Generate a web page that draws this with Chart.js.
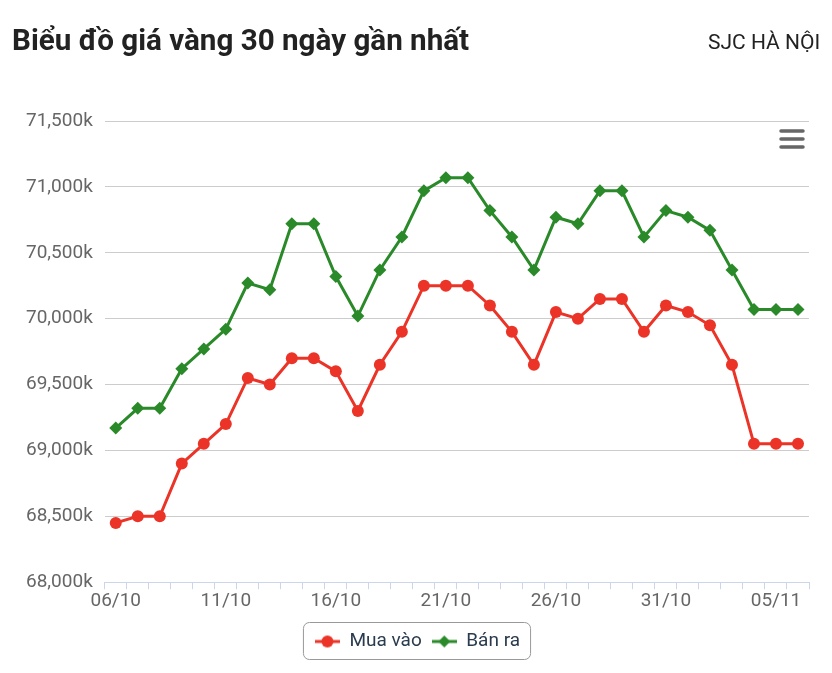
<!DOCTYPE html>
<html>
<head>
<meta charset="utf-8">
<script src="https://cdn.jsdelivr.net/npm/chart.js@4.4.1/dist/chart.umd.min.js"></script>
<style>
    html, body { margin: 0; background: #fff; font-family: Roboto, sans-serif; overflow: hidden; }
    #wrap { position: relative; width: 832px; height: 673px; }
    #title { position: absolute; left: 12px; top: 23px; font-size: 29.6px; font-weight: 700; color: #222; white-space: nowrap; }
    #sub { position: absolute; left: 708px; top: 30px; font-size: 21px; color: #222; white-space: nowrap; }
    #chartBox { position: absolute; left: 0; top: 0; width: 832px; height: 673px; }
    canvas { display: block; }
</style>
</head>
<body>
<div id="wrap">
    <div id="chartBox"><canvas id="goldChart" width="832" height="673"></canvas></div>
    <div id="title">Biểu đồ giá vàng 30 ngày gần nhất</div>
    <div id="sub">SJC HÀ NỘI</div>
</div>
<script>
// Dates (06/10 -> 06/11)
const days = [
    '06/10', '07/10', '08/10', '09/10', '10/10', '11/10', '12/10', '13/10',
    '14/10', '15/10', '16/10', '17/10', '18/10', '19/10', '20/10', '21/10',
    '22/10', '23/10', '24/10', '25/10', '26/10', '27/10', '28/10', '29/10',
    '30/10', '31/10', '01/11', '02/11', '03/11', '04/11', '05/11', '06/11'
];

// Giá mua vào (nghìn đồng)
const buyPrices = [
    68450, 68500, 68500, 68900, 69050, 69200, 69550, 69500,
    69700, 69700, 69600, 69300, 69650, 69900, 70250, 70250,
    70250, 70100, 69900, 69650, 70050, 70000, 70150, 70150,
    69900, 70100, 70050, 69950, 69650, 69050, 69050, 69050
];

// Giá bán ra (nghìn đồng)
const sellPrices = [
    69170, 69320, 69320, 69620, 69770, 69920, 70270, 70220,
    70720, 70720, 70320, 70020, 70370, 70620, 70970, 71070,
    71070, 70820, 70620, 70370, 70770, 70720, 70970, 70970,
    70620, 70820, 70770, 70670, 70370, 70070, 70070, 70070
];

const yMin = 68000;
const yMax = 71500;
const yStep = 500;

const RED = '#eb3427';
const GREEN = '#2a8a2a';

// small legend icons: line with marker through it
function legendIcon(color, shape) {
    const c = document.createElement('canvas');
    c.width = 25;
    c.height = 14;
    const g = c.getContext('2d');
    g.strokeStyle = color;
    g.fillStyle = color;
    g.lineWidth = 3;
    g.beginPath();
    g.moveTo(0, 7);
    g.lineTo(25, 7);
    g.stroke();
    g.beginPath();
    if (shape === 'circle') {
        g.arc(12.5, 7, 6, 0, Math.PI * 2);
    } else {
        g.moveTo(12.5, 1);
        g.lineTo(18.5, 7);
        g.lineTo(12.5, 13);
        g.lineTo(6.5, 7);
        g.closePath();
    }
    g.fill();
    return c;
}

const icons = [legendIcon(RED, 'circle'), legendIcon(GREEN, 'diamond')];

// border round legend + menu icon
const extrasPlugin = {
    id: 'extras',
    afterLayout(chart) {
        // nudge legend a bit to the right, like the original
        const lg = chart.legend;
        const dx = 6;
        lg.left += dx;
        lg.right += dx;
        (lg.legendHitBoxes || []).forEach(h => { h.left += dx; });
    },
    afterDraw(chart) {
        const ctx = chart.ctx;
        const boxes = chart.legend.legendHitBoxes;
        if (boxes && boxes.length) {
            let l = Infinity, r = -Infinity, t = Infinity, b = -Infinity;
            boxes.forEach(h => {
                l = Math.min(l, h.left);
                r = Math.max(r, h.left + h.width);
                t = Math.min(t, h.top);
                b = Math.max(b, h.top + h.height);
            });
            const x = l - 12, y = t - 10, w = r - l + 22, hgt = b - t + 18;
            ctx.save();
            ctx.strokeStyle = '#999';
            ctx.lineWidth = 1;
            ctx.beginPath();
            ctx.roundRect(x + 0.5, y + 0.5, w, hgt, 6);
            ctx.stroke();
            ctx.restore();
        }
        // hamburger menu
        ctx.save();
        ctx.strokeStyle = '#666';
        ctx.lineWidth = 3.5;
        ctx.lineCap = 'round';
        [131, 139, 147].forEach(yy => {
            ctx.beginPath();
            ctx.moveTo(781, yy);
            ctx.lineTo(803, yy);
            ctx.stroke();
        });
        ctx.restore();
    }
};

Chart.defaults.font.family = 'Roboto, sans-serif';
Chart.defaults.color = '#666';

new Chart(document.getElementById('goldChart'), {
    type: 'line',
    data: {
        labels: days,
        datasets: [{
            label: 'Mua vào',
            data: buyPrices,
            borderColor: RED,
            backgroundColor: RED,
            borderWidth: 3,
            pointStyle: 'circle',
            pointRadius: 6,
            pointBorderWidth: 0,
            tension: 0
        }, {
            label: 'Bán ra',
            data: sellPrices,
            borderColor: GREEN,
            backgroundColor: GREEN,
            borderWidth: 3,
            pointStyle: 'rectRot',
            pointRadius: 6.5,
            pointBorderWidth: 0,
            tension: 0
        }]
    },
    options: {
        responsive: false,
        animation: false,
        devicePixelRatio: 1,
        layout: {
            padding: { top: 121, left: 14, right: 23, bottom: 12 }
        },
        scales: {
            x: {
                offset: true,
                afterFit: function(scale) {
                    scale.height += 8;
                },
                grid: {
                    offset: true,
                    drawOnChartArea: false,
                    drawTicks: true,
                    tickLength: 7,
                    color: '#ccd6eb'
                },
                border: { display: true, color: '#ccd6eb' },
                ticks: {
                    autoSkip: false,
                    maxRotation: 0,
                    padding: 1,
                    font: { size: 19 },
                    color: '#666',
                    callback: function(value, index) {
                        return index % 5 === 0 ? this.getLabelForValue(value) : '';
                    }
                }
            },
            y: {
                min: yMin,
                max: yMax,
                grid: {
                    color: '#cccccc',
                    drawTicks: false
                },
                border: { display: false },
                ticks: {
                    stepSize: yStep,
                    padding: 12,
                    font: { size: 19 },
                    color: '#666',
                    callback: function(value) {
                        return value.toLocaleString('en-US') + 'k';
                    }
                }
            }
        },
        plugins: {
            legend: {
                position: 'bottom',
                labels: {
                    usePointStyle: true,
                    pointStyleWidth: 25,
                    padding: 10,
                    color: '#2a3b4d',
                    font: { size: 19 },
                    generateLabels: function(chart) {
                        const items = Chart.defaults.plugins.legend.labels.generateLabels(chart);
                        items.forEach((it, i) => {
                            it.pointStyle = icons[i];
                            it.fontColor = '#2a3b4d';
                        });
                        return items;
                    }
                }
            },
            tooltip: { enabled: false }
        }
    },
    plugins: [extrasPlugin]
});
</script>
</body>
</html>
